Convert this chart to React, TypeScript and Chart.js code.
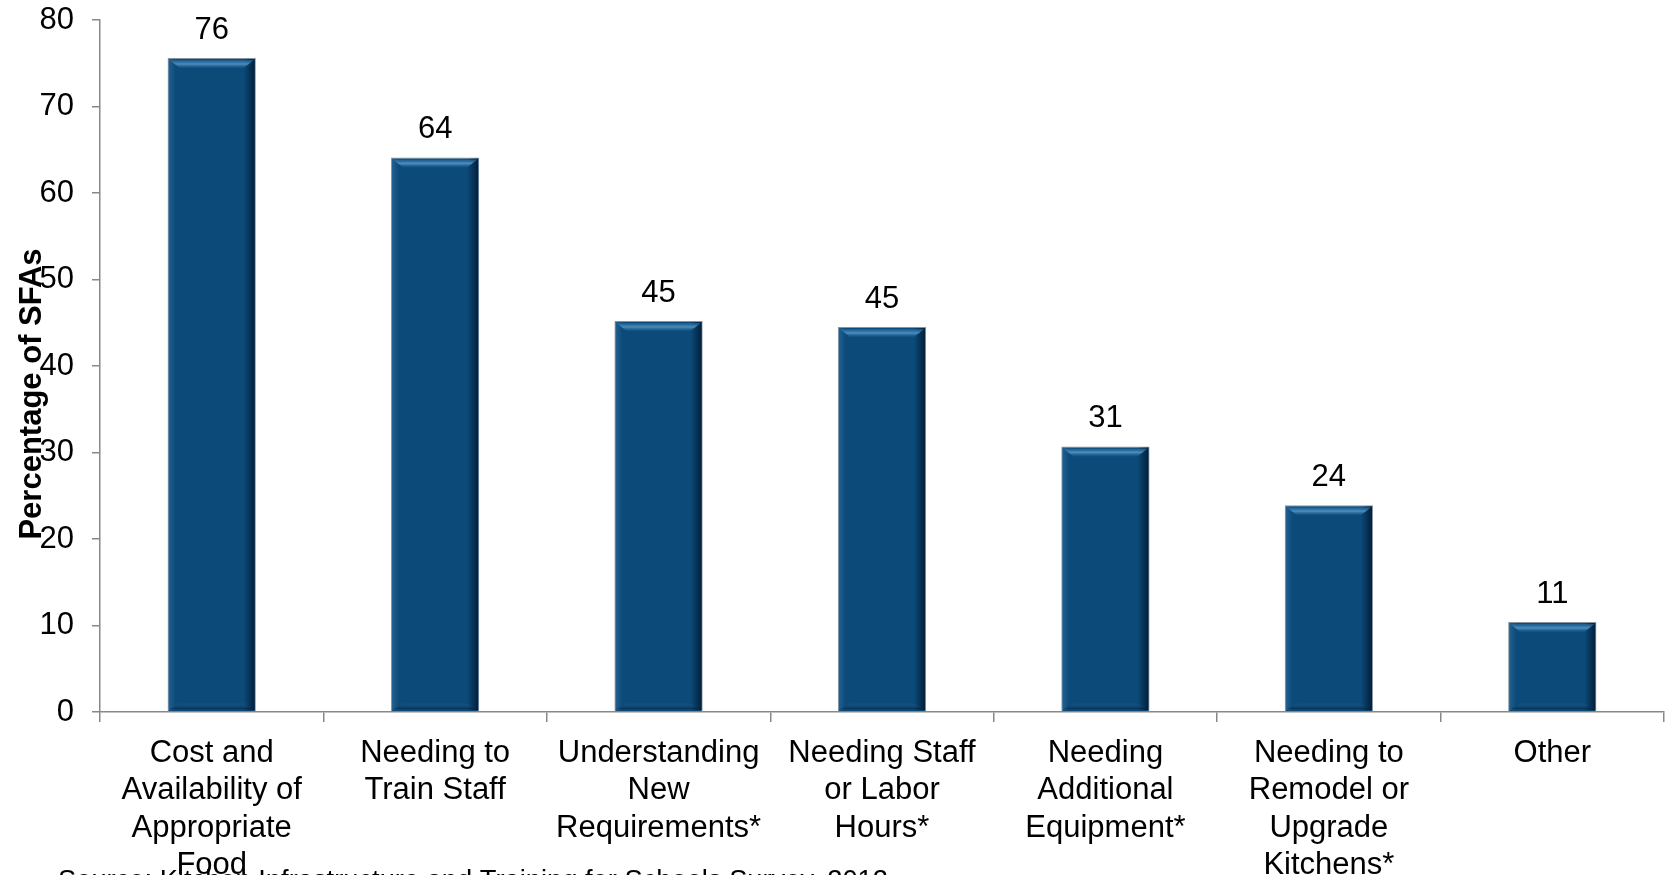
import React, { useEffect, useRef } from "react";
import { Chart, registerables } from "chart.js";

Chart.register(...registerables);

const categories: string[][] = [
  ["Cost and", "Availability of", "Appropriate", "Food"],
  ["Needing to", "Train Staff"],
  ["Understanding", "New", "Requirements*"],
  ["Needing Staff", "or Labor", "Hours*"],
  ["Needing", "Additional", "Equipment*"],
  ["Needing to", "Remodel or", "Upgrade", "Kitchens*"],
  ["Other"],
];
const values: number[] = [75.6, 64.1, 45.2, 44.5, 30.7, 23.9, 10.4];
const valueLabels: string[] = ["76", "64", "45", "45", "31", "24", "11"];
const yTitle = "Percentage of SFAs";
const sourceText = "Source: Kitchen Infrastructure and Training for Schools Survey, 2012";

const FONT = "'Liberation Sans', Arial, sans-serif";

const bevelPlugin = {
  id: "bevel",
  afterDatasetsDraw(chart: any) {
    const ctx = chart.ctx as CanvasRenderingContext2D;
    const meta = chart.getDatasetMeta(0);
    ctx.save();
    meta.data.forEach((bar: any, i: number) => {
      const w = bar.width;
      const l = bar.x - w / 2;
      const r = bar.x + w / 2;
      const t = bar.y;
      const b = bar.base;
      let g = ctx.createLinearGradient(l, 0, l + 8, 0);
      g.addColorStop(0, "rgba(60,120,170,0.55)");
      g.addColorStop(1, "rgba(60,120,170,0)");
      ctx.fillStyle = g;
      ctx.fillRect(l + 1, t + 1, 8, b - t - 2);
      g = ctx.createLinearGradient(r - 12, 0, r, 0);
      g.addColorStop(0, "rgba(0,15,35,0)");
      g.addColorStop(1, "rgba(0,15,35,0.8)");
      ctx.fillStyle = g;
      ctx.fillRect(r - 12, t + 1, 11, b - t - 2);
      ctx.beginPath();
      ctx.moveTo(l + 2, t + 2);
      ctx.lineTo(r - 2, t + 2);
      ctx.lineTo(r - 12, t + 10);
      ctx.lineTo(l + 12, t + 10);
      ctx.closePath();
      g = ctx.createLinearGradient(0, t + 2, 0, t + 10);
      g.addColorStop(0, "rgba(40,100,150,0.6)");
      g.addColorStop(0.5, "rgba(85,155,205,0.85)");
      g.addColorStop(1, "rgba(40,100,150,0.2)");
      ctx.fillStyle = g;
      ctx.fill();
      ctx.beginPath();
      ctx.moveTo(l + 2, b - 2);
      ctx.lineTo(r - 2, b - 2);
      ctx.lineTo(r - 12, b - 8);
      ctx.lineTo(l + 12, b - 8);
      ctx.closePath();
      g = ctx.createLinearGradient(0, b - 8, 0, b - 2);
      g.addColorStop(0, "rgba(60,120,170,0.1)");
      g.addColorStop(1, "rgba(0,20,40,0.5)");
      ctx.fillStyle = g;
      ctx.fill();
      ctx.fillStyle = "#000";
      ctx.font = `31px ${FONT}`;
      ctx.textAlign = "center";
      ctx.textBaseline = "middle";
      ctx.fillText(valueLabels[i], bar.x, t - 28);
    });
    ctx.restore();
  },
  afterDraw(chart: any) {
    const ctx = chart.ctx as CanvasRenderingContext2D;
    ctx.save();
    ctx.fillStyle = "#000";
    ctx.font = `bold 31px ${FONT}`;
    ctx.textAlign = "center";
    ctx.textBaseline = "middle";
    ctx.translate(32, 394);
    ctx.rotate(-Math.PI / 2);
    ctx.fillText(yTitle, 0, 0);
    ctx.restore();
    ctx.save();
    ctx.fillStyle = "#000";
    ctx.font = `27.3px ${FONT}`;
    ctx.textAlign = "left";
    ctx.textBaseline = "alphabetic";
    ctx.fillText(sourceText, 58, 889);
    ctx.restore();
  },
};

export default function App() {
  const ref = useRef<HTMLCanvasElement | null>(null);
  useEffect(() => {
    if (!ref.current) return;
    const chart = new Chart(ref.current, {
      type: "bar",
      data: {
        labels: categories,
        datasets: [
          {
            data: values,
            backgroundColor: "#0b4a79",
            borderColor: "#8795a3",
            borderWidth: 1,
            barPercentage: 0.395,
            categoryPercentage: 1,
          },
        ],
      },
      options: {
        animation: false,
        responsive: false,
        maintainAspectRatio: false,
        layout: { padding: { top: 20, right: 3, left: 0, bottom: 0 } },
        plugins: {
          legend: { display: false },
          tooltip: { enabled: false },
          title: { display: false },
        },
        scales: {
          x: {
            offset: true,
            grid: {
              offset: true,
              drawOnChartArea: false,
              drawTicks: true,
              tickLength: 10,
              color: "#888",
              lineWidth: 1.5,
            },
            border: { color: "#888", width: 1.5 },
            ticks: {
              color: "#000",
              font: { family: FONT, size: 31, lineHeight: 1.2 },
              maxRotation: 0,
              minRotation: 0,
              autoSkip: false,
              padding: 13,
            },
            afterFit(scale: any) {
              scale.height = 163;
              scale.paddingLeft = 0;
              scale.paddingRight = 0;
            },
          },
          y: {
            min: 0,
            max: 80,
            grid: {
              drawOnChartArea: false,
              drawTicks: true,
              tickLength: 8,
              color: "#888",
              lineWidth: 1.5,
            },
            border: { color: "#888", width: 1.5 },
            ticks: {
              stepSize: 10,
              color: "#000",
              font: { family: FONT, size: 31 },
              padding: 18,
            },
            afterFit(scale: any) {
              scale.width = 100;
              scale.paddingTop = 0;
              scale.paddingBottom = 0;
            },
          },
        },
      },
      plugins: [bevelPlugin],
    });
    return () => chart.destroy();
  }, []);
  return (
    <div style={{ position: "fixed", left: 0, top: 0, width: 1667, height: 875, background: "#fff" }}>
      <canvas ref={ref} width={1667} height={875} style={{ display: "block", width: 1667, height: 875 }} />
    </div>
  );
}
